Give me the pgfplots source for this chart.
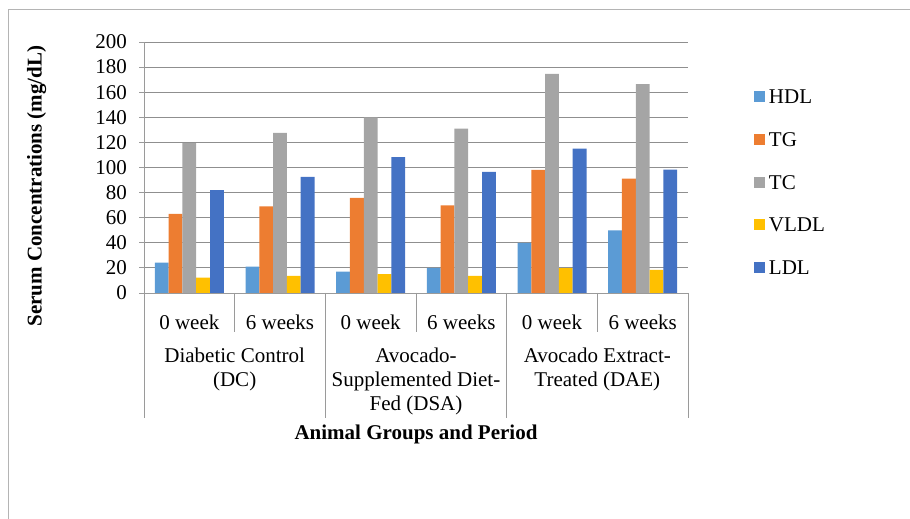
\documentclass[border=0pt]{standalone}
\usepackage{fontspec}
\setmainfont{Liberation Serif}
\usepackage{pgfplots}
\pgfplotsset{compat=1.18}
\definecolor{cHDL}{HTML}{5B9BD5}
\definecolor{cTG}{HTML}{ED7D31}
\definecolor{cTC}{HTML}{A5A5A5}
\definecolor{cVLDL}{HTML}{FFC000}
\definecolor{cLDL}{HTML}{4472C4}
\definecolor{axgray}{HTML}{9A9A9A}
\definecolor{gridgray}{HTML}{8F8F8F}
\definecolor{bordergray}{HTML}{B4B4B4}
\begin{document}
\fontsize{21}{24}\selectfont
\begin{tikzpicture}
\path[use as bounding box] (0pt,0pt) rectangle (910pt,519pt);
\draw[color=bordergray, line width=0.8pt] (8.5pt,0pt) -- (8.5pt,509.5pt) -- (910pt,509.5pt);
\begin{axis}[
  at={(144pt,226pt)}, anchor=south west,
  scale only axis, width=544pt, height=251pt,
  xmin=-0.5, xmax=5.5, ymin=0, ymax=200,
  ybar=0pt, bar width=13.8pt,
  axis x line*=bottom, axis y line*=left,
  axis line style={color=axgray, line width=0.9pt},
  ytick={0,20,...,200},
  ymajorgrids, grid style={color=gridgray, line width=0.9pt},
  tick align=outside, major tick length=5pt,
  ytick style={color=axgray, line width=0.9pt},
  xtick={0,1,2,3,4,5},
  xticklabels={0 week,6 weeks,0 week,6 weeks,0 week,6 weeks},
  xtick style={draw=none},
  xticklabel style={anchor=base, yshift=-32pt, inner sep=0pt},
  yticklabel style={anchor=east, inner sep=0pt, xshift=-12pt},
  /pgf/number format/assume math mode=true,
  tick label style={font=\fontsize{21}{24}\selectfont},
  ylabel={\bfseries Serum Concentrations (mg/dL)},
  ylabel style={at={(rel axis cs:-0.1972,0.426)}, anchor=center, font=\fontsize{21}{24}\selectfont},
  xlabel={\bfseries Animal Groups and Period},
  xlabel style={at={(rel axis cs:0.5,0)}, anchor=base, yshift=-147pt, font=\fontsize{21}{24}\selectfont},
  clip=false,
  legend style={at={(1.1213,0.814)}, anchor=north west, draw=none, fill=none,
    inner sep=0pt, outer sep=0pt, row sep=22.7pt, column sep=4pt,
    font=\fontsize{21}{24}\selectfont,
    nodes={inner sep=0pt, text height=15pt, text depth=5pt, anchor=base west}},
  legend cell align=left,
  every axis plot/.append style={draw=none,
    legend image code/.code={\fill[##1] (0pt,1.5pt) rectangle (11pt,12.5pt);}},
]
\addplot[fill=cHDL] coordinates {(0,24.3) (1,21.1) (2,17.1) (3,20.0) (4,40.0) (5,49.9)};
\addplot[fill=cTG] coordinates {(0,63.0) (1,69.1) (2,75.8) (3,69.9) (4,98.2) (5,91.2)};
\addplot[fill=cTC] coordinates {(0,119.5) (1,127.5) (2,140.0) (3,131.0) (4,174.5) (5,166.5)};
\addplot[fill=cVLDL] coordinates {(0,12.3) (1,13.6) (2,15.0) (3,13.6) (4,19.8) (5,18.4)};
\addplot[fill=cLDL] coordinates {(0,81.9) (1,92.6) (2,108.3) (3,96.6) (4,115.0) (5,98.4)};
\legend{HDL,TG,TC,VLDL,LDL}
\end{axis}
% category separators
\begin{scope}[color=axgray, line width=0.9pt]
\foreach \xx in {144,325.33,506.67,688} \draw (\xx pt,226pt) -- (\xx pt,101pt);
\foreach \xx in {234.67,416,597.33} \draw (\xx pt,226pt) -- (\xx pt,187.3pt);
\end{scope}
\node[anchor=base, inner sep=0pt] at (234.67pt,156pt) {Diabetic Control};
\node[anchor=base, inner sep=0pt] at (234.67pt,132pt) {(DC)};
\node[anchor=base, inner sep=0pt] at (416pt,156pt) {Avocado-};
\node[anchor=base, inner sep=0pt] at (416pt,132pt) {Supplemented Diet-};
\node[anchor=base, inner sep=0pt] at (416pt,108pt) {Fed (DSA)};
\node[anchor=base, inner sep=0pt] at (597.33pt,156pt) {Avocado Extract-};
\node[anchor=base, inner sep=0pt] at (597.33pt,132pt) {Treated (DAE)};
\end{tikzpicture}
\end{document}
